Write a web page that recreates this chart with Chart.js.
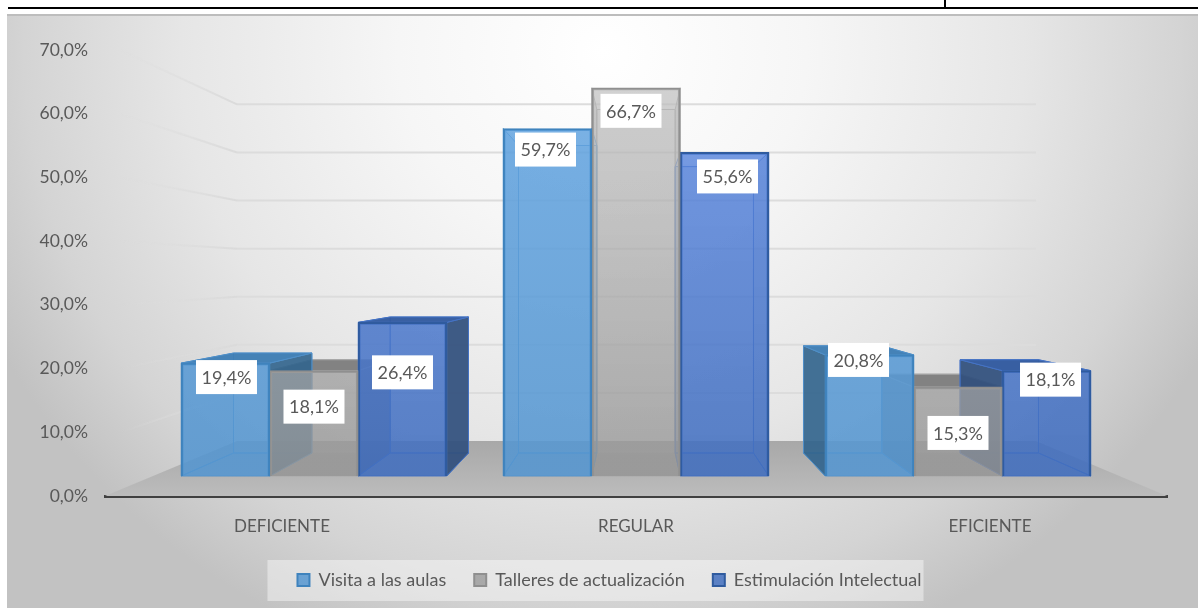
<!DOCTYPE html>
<html lang="es">
<head>
<meta charset="utf-8">
<title>Grafico</title>
<script src="https://cdn.jsdelivr.net/npm/chart.js@4"></script>
<style>
    html, body { margin: 0; padding: 0; background: #fff; width: 1198px; height: 609px; overflow: hidden; }
    #panel {
        position: absolute; left: 7px; top: 14px; width: 1191px; height: 594px;
        border-top: 2px solid #bdbdbd; box-sizing: border-box;
        background: radial-gradient(ellipse 680px 640px at 50% 6%, #ffffff 0%, #f6f6f6 30%, #e6e6e6 62%, #d4d4d4 85%, #c2c2c2 100%);
    }
    #regla { position: absolute; left: 8px; top: 7px; width: 1190px; height: 2px; background: #000; }
    #corte { position: absolute; left: 944px; top: 0; width: 2px; height: 8px; background: #000; }
    #lienzo { position: absolute; left: 0; top: 0; }
</style>
</head>
<body>
<div id="regla"></div>
<div id="corte"></div>
<div id="panel"></div>
<canvas id="lienzo" width="1198" height="609"></canvas>
<script>

const categorias = ['DEFICIENTE', 'REGULAR', 'EFICIENTE'];
const visitaAulas = [19.4, 59.7, 20.8];
const talleres = [18.1, 66.7, 15.3];
const estimulacion = [26.4, 55.6, 18.1];
const ticksY = [0, 10, 20, 30, 40, 50, 60, 70];

// desplazamiento de cada etiqueta respecto al centro y la cima de su barra
const offsetVisita = [[1, 14], [-2, 21], [-11, 5]];
const offsetTalleres = [[0, 36], [-5, 23], [0, 46]];
const offsetEstimulacion = [[0, 50], [3, 24], [4, 9]];

const fuente = 'Lato, "Open Sans", sans-serif';
const coma = (v) => v.toFixed(1).replace('.', ',') + '%';

// perspectiva: el fondo de cada barra se reduce hacia este punto
const fuga = { x: 636, y: 276, escala: 0.885 };
const atras = (x, y) => [fuga.x + (x - fuga.x) * fuga.escala, fuga.y + (y - fuga.y) * fuga.escala];

function poligono(ctx, puntos, relleno, borde) {
    ctx.beginPath();
    puntos.forEach((p, i) => i ? ctx.lineTo(p[0], p[1]) : ctx.moveTo(p[0], p[1]));
    ctx.closePath();
    if (relleno) { ctx.fillStyle = relleno; ctx.fill(); }
    if (borde) { ctx.strokeStyle = borde; ctx.lineWidth = 1; ctx.stroke(); }
}

const colores = [
    { externa: 'rgba(50,100,140,0.9)', interna: 'rgba(70,130,190,0.2)', cima: 'rgba(62,125,180,0.95)', fondo: 'rgba(91,155,213,0.15)', linea: '#4f8fc8' },
    { externa: 'rgba(110,110,110,0.8)', interna: 'rgba(120,120,120,0.22)', cima: 'rgba(125,125,125,0.95)', fondo: 'rgba(170,170,170,0.1)', linea: '#a8a8a8' },
    { externa: 'rgba(50,80,125,0.92)', interna: 'rgba(50,90,160,0.2)', cima: 'rgba(52,92,160,0.97)', fondo: 'rgba(68,114,196,0.15)', linea: '#4472c4' }
];

const escenario = {
    id: 'escenario',
    afterLayout(chart) {
        // la leyenda del original no va centrada en el lienzo
        chart.legend.left += 21;
        chart.legend.right += 21;
        chart.legend.adjustHitBoxes();
    },
    beforeDraw(chart) {
        // banda clara detras de la leyenda
        const cajas = chart.legend.legendHitBoxes;
        const ctx = chart.ctx;
        const ultima = cajas[cajas.length - 1];
        const izq = cajas[0].left - 30;
        ctx.fillStyle = 'rgba(255,255,255,0.42)';
        ctx.fillRect(izq, 560, ultima.left + ultima.width - izq + 2, 41);
    },
    beforeDatasetsDraw(chart) {
        const ctx = chart.ctx;
        const area = chart.chartArea;
        const pared = chart.scales.yPared;
        const ejeY = chart.scales.y;
        const xIzq = 237;
        const xDer = 1036;

        // suelo
        const yFondo = pared.getPixelForValue(0);
        const suelo = ctx.createLinearGradient(0, yFondo, 0, area.bottom);
        suelo.addColorStop(0, '#a8a8a8');
        suelo.addColorStop(1, '#bcbcbc');
        poligono(ctx, [[area.left, area.bottom], [xIzq, yFondo], [xDer, yFondo], [area.right, area.bottom]], suelo);

        // rejilla de la pared y del costado izquierdo
        ticksY.slice(1).forEach((t) => {
            const y = pared.getPixelForValue(t);
            const yEje = ejeY.getPixelForValue(t);
            const desvanece = ctx.createLinearGradient(120, 0, xIzq, 0);
            desvanece.addColorStop(0, 'rgba(222,222,222,0)');
            desvanece.addColorStop(1, 'rgba(218,218,218,1)');
            ctx.lineWidth = 2;
            ctx.strokeStyle = desvanece;
            ctx.beginPath();
            ctx.moveTo(120, yEje);
            ctx.lineTo(xIzq, y);
            ctx.stroke();
            ctx.strokeStyle = '#dcdcdc';
            ctx.beginPath();
            ctx.moveTo(xIzq, y);
            ctx.lineTo(xDer, y);
            ctx.stroke();
        });

        // caras traseras y laterales: primero la serie gris
        [1, 0, 2].forEach((d) => {
            const c = colores[d];
            chart.getDatasetMeta(d).data.forEach((barra, i) => {
                const iz = barra.x - barra.width / 2;
                const de = barra.x + barra.width / 2;
                const a = barra.y;
                const b = barra.base;
                const AI = atras(iz, a), AD = atras(de, a), BI = atras(iz, b), BD = atras(de, b);
                poligono(ctx, [AI, AD, BD, BI], c.fondo, c.linea);
                poligono(ctx, [[iz, b], [de, b], BD, BI], c.interna, c.linea);
                // grupo 0: cara exterior a la derecha, grupo 2: a la izquierda
                poligono(ctx, [[iz, a], AI, BI, [iz, b]], i === 2 ? c.externa : c.interna, c.linea);
                poligono(ctx, [[de, a], AD, BD, [de, b]], i === 0 ? c.externa : c.interna, c.linea);
                // la cima solo se ve por debajo de la linea del ojo
                if (a > fuga.y) poligono(ctx, [[iz, a], [de, a], AD, AI], c.cima, c.linea);
            });
        });
    },
    afterDatasetsDraw(chart) {
        // etiquetas de valor en caja blanca
        const ctx = chart.ctx;
        ctx.font = '18px ' + fuente;
        ctx.textAlign = 'center';
        ctx.textBaseline = 'middle';
        chart.data.datasets.forEach((ds, d) => {
            chart.getDatasetMeta(d).data.forEach((barra, i) => {
                const cx = barra.x + ds.offsets[i][0];
                const cy = barra.y + ds.offsets[i][1];
                ctx.fillStyle = '#ffffff';
                ctx.fillRect(cx - 30.5, cy - 17, 61, 34);
                ctx.fillStyle = '#595959';
                ctx.fillText(coma(ds.data[i].y), cx, cy + 1);
            });
        });
    }
};

const lienzo = document.querySelector('#lienzo');

// relleno de vidrio: mas claro arriba, mas denso junto al suelo
function vidrio(arriba, abajo) {
    const g = lienzo.getContext('2d').createLinearGradient(0, 90, 0, 476);
    g.addColorStop(0, arriba);
    g.addColorStop(1, abajo);
    return g;
}

const serie = (nombre, valores, offsets, relleno, borde) => ({
    label: nombre,
    data: valores.map((v, i) => ({ x: i, y: v })),
    offsets: offsets,
    xAxisID: 'xBarras',
    yAxisID: 'yBarras',
    base: 0,
    barThickness: 88.5,
    backgroundColor: relleno,
    borderColor: borde,
    borderWidth: 2
});

new Chart(lienzo, {
    type: 'bar',
    data: {
        labels: categorias,
        datasets: [
            serie('Visita a las aulas', visitaAulas, offsetVisita, vidrio('rgba(100,165,225,0.85)', 'rgba(85,150,208,0.85)'), '#3f83bd'),
            serie('Talleres de actualización', talleres, offsetTalleres, vidrio('rgba(190,190,190,0.7)', 'rgba(150,150,150,0.78)'), '#8f8f8f'),
            serie('Estimulación Intelectual', estimulacion, offsetEstimulacion, vidrio('rgba(90,135,225,0.8)', 'rgba(65,110,190,0.85)'), '#2f5b9f')
        ]
    },
    plugins: [escenario],
    options: {
        responsive: false,
        animation: false,
        layout: { padding: { left: 10, right: 31, top: 50, bottom: 10 } },
        plugins: {
            tooltip: { enabled: false },
            legend: {
                position: 'bottom',
                labels: {
                    boxWidth: 12,
                    boxHeight: 12,
                    padding: 28,
                    color: '#595959',
                    font: { family: fuente, size: 18 }
                }
            }
        },
        scales: {
            x: {
                type: 'category',
                grid: { display: false },
                border: { color: '#404040', width: 3 },
                ticks: { color: '#595959', padding: 12, font: { family: fuente, size: 17 }, maxRotation: 0 },
                afterFit: (s) => { s.height = 47; }
            },
            y: {
                type: 'linear',
                min: 0,
                max: 70,
                grid: { display: false },
                border: { display: false },
                afterBuildTicks: (s) => { s.ticks = ticksY.map((v) => ({ value: v })); },
                ticks: { color: '#595959', padding: 9, font: { family: fuente, size: 17.5 }, callback: (v) => coma(v) },
                afterFit: (s) => { s.width = 95; }
            },
            // mismas dimensiones, otra escala: frente de las barras (0 en y=476) y pared del fondo (0 en y=441)
            xBarras: { type: 'linear', display: false, offset: false, min: -0.649, max: 2.649 },
            yBarras: { type: 'linear', display: false, min: -3.44, max: 73.2 },
            yPared: { type: 'linear', display: false, min: -11.43, max: 81.3 }
        }
    }
});

</script>
</body>
</html>
